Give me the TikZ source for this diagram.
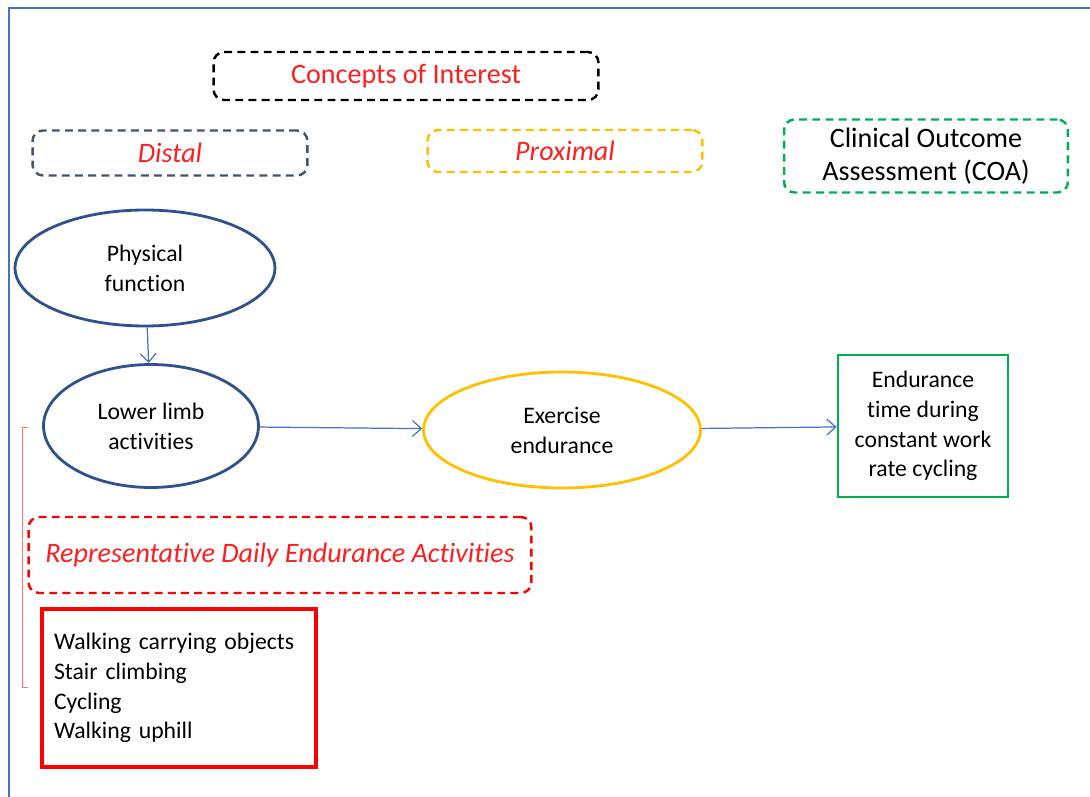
\documentclass[tikz,border=0pt]{standalone}
\usepackage{fontspec}
\setmainfont{Carlito}[Ligatures=NoCommon]
\usetikzlibrary{shapes.geometric,arrows.meta}
\definecolor{frameblue}{RGB}{68,114,196}
\definecolor{darkblue}{RGB}{47,82,143}
\definecolor{slateblue}{RGB}{68,84,106}
\definecolor{gold}{RGB}{255,192,0}
\definecolor{coagreen}{RGB}{0,176,80}
\definecolor{redline}{RGB}{255,0,0}
\definecolor{textred}{RGB}{255,30,30}

\begin{document}
\begin{tikzpicture}[x=0.02cm,y=-0.02cm,
    font=\fontsize{13.5}{17}\selectfont,
    dashbox/.style={draw, dash pattern=on 4.5pt off 3pt, line width=1.4pt,
        rounded corners=6pt, align=center, font=\fontsize{16}{19}\selectfont},
    concept/.style={ellipse, draw=darkblue, line width=1.6pt, align=center,
        inner sep=0pt},
    link/.style={draw=frameblue, line width=0.7pt,
        -{Straight Barb[length=5pt,width=9pt]}}]
\useasboundingbox (0,0) rectangle (1090,797);
\draw[frameblue, line width=1.3pt] (9,797) -- (9,8) -- (1090,8);
% headings
\node[dashbox, draw=black, text=textred,
    minimum width=7.7cm, minimum height=0.96cm] (coi) at (406,76) {Concepts of Interest};
\node[dashbox, draw=slateblue, text=textred, font=\fontsize{16}{19}\selectfont\itshape,
    minimum width=5.5cm, minimum height=0.9cm] (distal) at (170,153) {Distal};
\node[dashbox, draw=gold, text=textred, font=\fontsize{16}{19}\selectfont\itshape,
    minimum width=5.5cm, minimum height=0.84cm] (proximal) at (565,151) {Proximal};
\node[dashbox, draw=coagreen,
    minimum width=5.68cm, minimum height=1.46cm] (coa) at (926,156) {Clinical Outcome\\Assessment (COA)};
% concepts
\node[concept, minimum width=5.2cm, minimum height=2.32cm] (physical) at (145,268) {Physical\\function};
\node[concept, minimum width=4.3cm, minimum height=2.46cm] (lowerlimb) at (151,426) {Lower limb\\activities};
\node[concept, draw=gold, minimum width=5.54cm, minimum height=2.32cm] (exercise) at (562,430) {Exercise\\endurance};
\node[draw=coagreen, line width=1.6pt, align=center, minimum width=3.4cm,
    minimum height=2.84cm] (cycling) at (923,426) {Endurance\\time during\\constant work\\rate cycling};
% daily activities
\node[dashbox, draw=redline, text=textred, font=\fontsize{16}{19}\selectfont\itshape,
    minimum width=10.06cm, minimum height=1.52cm] (daily) at (280,555) {Representative Daily Endurance Activities};
\node[draw=redline, line width=1.8pt, align=left, text width=5cm, inner sep=0.24cm,
    minimum height=3.16cm] (examples) at (179,688) {Walking carrying objects\\Stair climbing\\Cycling\\Walking uphill};
\draw[redline!55, line width=0.5pt] (28,427) -- (22,427) -- (22,687) -- (28,687);
% links
\draw[link] (physical) -- (lowerlimb);
\draw[link] (lowerlimb) -- (exercise);
\draw[link] (exercise) -- (cycling);
\end{tikzpicture}
\end{document}
